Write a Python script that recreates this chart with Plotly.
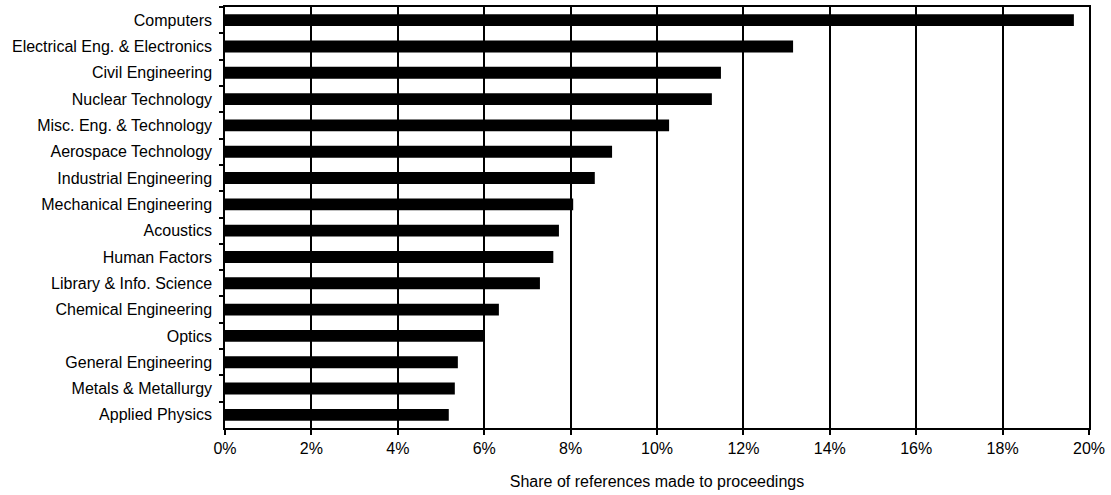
import plotly.graph_objects as go

categories = [
    "Computers", "Electrical Eng. & Electronics", "Civil Engineering",
    "Nuclear Technology", "Misc. Eng. & Technology", "Aerospace Technology",
    "Industrial Engineering", "Mechanical Engineering", "Acoustics",
    "Human Factors", "Library & Info. Science", "Chemical Engineering",
    "Optics", "General Engineering", "Metals & Metallurgy", "Applied Physics",
]
share_pct = [19.65, 13.15, 11.48, 11.27, 10.28, 8.96, 8.56, 8.06, 7.73,
             7.6, 7.29, 6.34, 6.0, 5.39, 5.32, 5.18]
x_ticks = [0, 2, 4, 6, 8, 10, 12, 14, 16, 18, 20]
x_tick_labels = ["0%", "2%", "4%", "6%", "8%", "10%", "12%", "14%", "16%", "18%", "20%"]
x_title = "Share of references made to proceedings"

font_family = "Liberation Sans, Arial, Helvetica, sans-serif"

fig = go.Figure(go.Bar(
    x=share_pct, y=categories, orientation="h",
    marker=dict(color="black", line=dict(width=0)),
))

fig.update_layout(
    width=1111, height=495,
    margin=dict(l=225, r=22, t=5, b=67),
    plot_bgcolor="white", paper_bgcolor="white",
    bargap=0.55,
    showlegend=False,
    font=dict(family=font_family, size=16, color="black"),
    xaxis=dict(
        range=[0, 20], tickmode="array", tickvals=x_ticks, ticktext=x_tick_labels,
        showgrid=True, gridcolor="black", gridwidth=1.5,
        showline=True, linecolor="black", linewidth=1.5, mirror=True,
        ticks="outside", ticklen=5, tickwidth=1.5, tickcolor="black",
        zeroline=False,
        title=dict(text=x_title, font=dict(size=16), standoff=20),
        tickfont=dict(size=16),
    ),
    yaxis=dict(
        autorange="reversed", type="category",
        showline=True, linecolor="black", linewidth=1.5, mirror=True,
        ticks="outside", ticklen=4, tickwidth=1.5, tickcolor="black",
        tickson="boundaries", showgrid=False,
        tickfont=dict(size=16),
        ticklabelstandoff=8,
    ),
)

fig.write_html("out.html", config={"displayModeBar": False},
               post_script="document.body.style.margin='0';")
